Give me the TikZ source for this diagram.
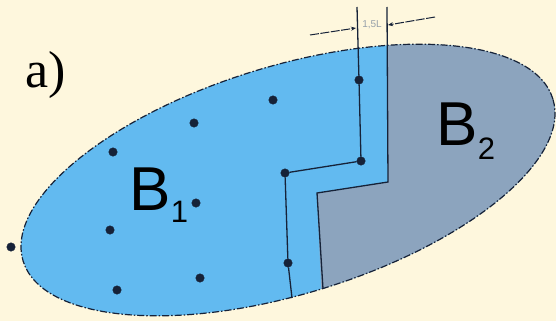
\documentclass[tikz,border=0pt]{standalone}
\usepackage{fontspec}
\setmainfont{Liberation Serif}
\newfontfamily\arialf{Liberation Sans}
\usetikzlibrary{arrows.meta}
\definecolor{bgc}{RGB}{254,247,221}
\definecolor{blueA}{RGB}{98,186,240}
\definecolor{grayA}{RGB}{140,164,190}
\definecolor{inkc}{RGB}{22,34,56}
\definecolor{lblc}{RGB}{150,160,170}
\tikzset{
  dot/.style={circle,fill=inkc,draw=inkc,inner sep=0pt,minimum size=8.5pt},
  bline/.style={draw=inkc,line width=1.3pt},
  border/.style={draw=inkc,line width=1.2pt,dash pattern=on 7pt off 2pt on 1.5pt off 2pt},
  dimarrow/.style={draw=inkc,line width=1pt,dash pattern=on 9pt off 1.5pt,-{Stealth[length=5pt,width=4pt]}},
  bigB/.style={anchor=base west,inner sep=0pt,font=\arialf\fontsize{62}{62}\selectfont},
}
\begin{document}
\begin{tikzpicture}[x=1pt,y=1pt]
\fill[bgc] (0,0) rectangle (556,-321);
\useasboundingbox (0,0) rectangle (556,-321);
% ellipse fill
\fill[blueA,rotate around={17:(288,-180)}] (288,-180) ellipse [x radius=277,y radius=114];
\begin{scope}
\clip[rotate around={17:(288,-180)}] (288,-180) ellipse [x radius=277,y radius=114];
\fill[grayA] (387.5,10) -- (388,-182) -- (317,-193) -- (323,-330) -- (600,-330) -- (600,10) -- cycle;
\end{scope}
\draw[border,rotate around={17:(288,-180)}] (288,-180) ellipse [x radius=277,y radius=114];
% polyline coordinates
\coordinate (t1) at (357,-7);
\coordinate (b1) at (292,-298);
\coordinate (t2) at (387,-7);
\coordinate (r1) at (388,-182);
\coordinate (r2) at (317,-193);
\coordinate (b2) at (323,-289);
% dots
\node[dot] (d1) at (359,-80) {};
\node[dot] (d2) at (361,-161) {};
\node[dot] (d3) at (285,-173) {};
\node[dot] (d4) at (288,-263) {};
\node[dot] (d5) at (273,-100) {};
\node[dot] (d6) at (194,-123) {};
\node[dot] (d7) at (113,-152) {};
\node[dot] (d8) at (196,-203) {};
\node[dot] (d9) at (110,-230) {};
\node[dot] (d10) at (11,-247) {};
\node[dot] (d11) at (117,-290) {};
\node[dot] (d12) at (200,-278) {};
\draw[bline] (t1) -- (d1) -- (d2) -- (d3) -- (d4) -- (b1);
\draw[bline] (t2) -- (r1) -- (r2) -- (b2);
% dimension arrows
\coordinate (a1) at (310,-35);
\coordinate (a1e) at (356,-28);
\coordinate (a2) at (435,-17);
\coordinate (a2e) at (388,-25);
\draw[dimarrow] (a1) -- (a1e);
\draw[dimarrow] (a2) -- (a2e);
\node[text=lblc,font=\arialf\fontsize{10}{10}\selectfont,inner sep=0pt] (lbl) at (372,-25) {1,5L};
% labels
\node[bigB] (B1) at (129,-210) {B};
\node[anchor=base west,inner sep=0pt,font=\arialf\fontsize{31}{31}\selectfont] (s1) at (B1.base east) {\raisebox{-12pt}{1}};
\node[bigB] (B2) at (436,-145) {B};
\node[anchor=base west,inner sep=0pt,font=\arialf\fontsize{31}{31}\selectfont] (s2) at (B2.base east) {\raisebox{-14pt}{2}};
\node[anchor=base west,inner sep=0pt,font=\fontsize{52}{52}\selectfont] (lab) at (25,-87) {a)};
\end{tikzpicture}
\end{document}
